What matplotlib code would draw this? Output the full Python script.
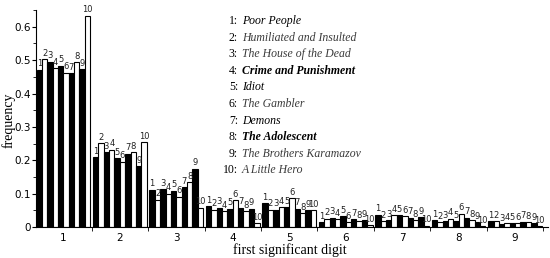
import numpy as np
import matplotlib
matplotlib.use("Agg")
import matplotlib.pyplot as plt
from matplotlib.ticker import MultipleLocator, FixedLocator

digits = [1, 2, 3, 4, 5, 6, 7, 8, 9]
books = ["Poor People", "Humiliated and Insulted", "The House of the Dead",
         "Crime and Punishment", "Idiot", "The Gambler", "Demons",
         "The Adolescent", "The Brothers Karamazov", "A Little Hero"]
bold_books = [False, False, False, True, False, False, False, True, False, False]
dark_books = [True, False, False, True, True, False, True, True, False, False]

# freq[book][digit]
freq = [
    [0.471, 0.210, 0.112, 0.062, 0.072, 0.015, 0.037, 0.020, 0.017],
    [0.503, 0.252, 0.082, 0.052, 0.052, 0.025, 0.017, 0.015, 0.017],
    [0.495, 0.224, 0.114, 0.058, 0.052, 0.028, 0.020, 0.018, 0.009],
    [0.475, 0.232, 0.100, 0.048, 0.059, 0.024, 0.035, 0.025, 0.012],
    [0.483, 0.207, 0.109, 0.055, 0.060, 0.032, 0.035, 0.018, 0.011],
    [0.462, 0.196, 0.091, 0.080, 0.087, 0.015, 0.032, 0.040, 0.012],
    [0.460, 0.220, 0.120, 0.058, 0.055, 0.024, 0.028, 0.028, 0.016],
    [0.493, 0.224, 0.134, 0.047, 0.042, 0.017, 0.020, 0.020, 0.014],
    [0.473, 0.182, 0.175, 0.055, 0.050, 0.020, 0.030, 0.014, 0.011],
    [0.633, 0.254, 0.058, 0.012, 0.050, 0.005, 0.004, 0.003, 0.002],
]

fig = plt.figure(figsize=(5.5, 2.58), dpi=100)
ax = fig.add_axes([0.066, 0.12, 0.93, 0.841])

w = 0.095
x = np.array(digits, dtype=float)
for i, vals in enumerate(freq):
    pos = x + (i - 4.5) * w
    face = "black" if i % 2 == 0 else "white"
    ax.bar(pos, vals, width=w, color=face, edgecolor="black", linewidth=0.8)
    for px, v in zip(pos, vals):
        ax.text(px, v + 0.004, str(i + 1), ha="center", va="bottom",
                fontsize=6, family="DejaVu Sans", color="#222222")

ax.set_xlim(0.52, 9.58)
ax.set_ylim(0, 0.65)
ax.spines["top"].set_visible(False)
ax.spines["right"].set_visible(False)
ax.xaxis.set_major_locator(FixedLocator(digits))
ax.xaxis.set_minor_locator(FixedLocator([d + 0.5 for d in range(0, 10)]))
ax.tick_params(axis="x", which="major", length=0, labelsize=7.5, pad=4)
ax.tick_params(axis="x", which="minor", length=3, direction="out")
ax.yaxis.set_major_locator(MultipleLocator(0.1))
ax.yaxis.set_minor_locator(MultipleLocator(0.05))
ax.tick_params(axis="y", which="major", length=3, direction="out", labelsize=7.5, pad=1)
ax.tick_params(axis="y", which="minor", length=2, direction="out")
ax.set_yticks([0, 0.1, 0.2, 0.3, 0.4, 0.5, 0.6])
ax.set_yticklabels(["0", "0.1", "0.2", "0.3", "0.4", "0.5", "0.6"])

fig.text(290 / 550, 1 - 250 / 258, "first significant digit", ha="center", va="center",
         family="Liberation Serif", fontsize=10)
fig.text(9 / 550, 1 - 120 / 258, "frequency", ha="center", va="center", rotation=90,
         family="Liberation Serif", fontsize=10)

for i, (name, b, d) in enumerate(zip(books, bold_books, dark_books)):
    ypix = 21 + 16.6 * i
    yf = 1 - ypix / 258
    fig.text(238 / 550, yf, f"{i + 1}:", ha="right", va="center",
             family="Liberation Serif", fontsize=8.5)
    fig.text(242 / 550, yf, name, ha="left", va="center",
             family="Liberation Serif", fontsize=8.5, style="italic",
             weight="bold" if b else "normal",
             color="black" if d else "#3a3a3a")

fig.savefig("out.png", dpi=100)
